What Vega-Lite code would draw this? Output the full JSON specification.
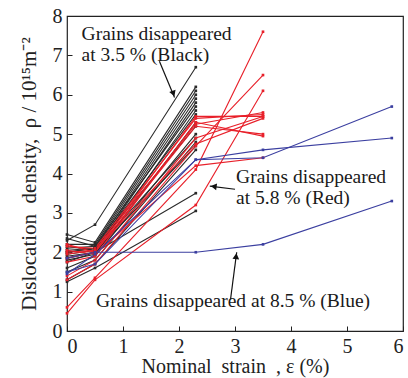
{
  "$schema": "https://vega.github.io/schema/vega-lite/v6.json",
  "width": 336,
  "height": 315,
  "autosize": "none",
  "padding": {"left": 67, "top": 16, "right": 5, "bottom": 47},
  "config": {
    "view": {"stroke": "#222", "strokeWidth": 1.2},
    "font": "Liberation Serif",
    "axis": {
      "grid": false, "domain": false, "tickColor": "#222", "tickSize": -5, "labelPadding": 10,
      "labelFont": "Liberation Serif", "labelFontSize": 20, "labelColor": "#222",
      "titleFont": "Liberation Serif", "titleFontSize": 20, "titleFontWeight": "normal", "titleColor": "#222"
    }
  },
  "datasets": {
    "lines": [
      {"g":"Black","id":"b1","x":0,"y":2.3},{"g":"Black","id":"b1","x":0.5,"y":2.7},{"g":"Black","id":"b1","x":2.3,"y":6.7},
      {"g":"Black","id":"b2","x":0,"y":2.45},{"g":"Black","id":"b2","x":0.5,"y":2.25},{"g":"Black","id":"b2","x":2.3,"y":6.2},
      {"g":"Black","id":"b3","x":0,"y":2.2},{"g":"Black","id":"b3","x":0.5,"y":2.2},{"g":"Black","id":"b3","x":2.3,"y":6.1},
      {"g":"Black","id":"b4","x":0,"y":2.1},{"g":"Black","id":"b4","x":0.5,"y":2.15},{"g":"Black","id":"b4","x":2.3,"y":6.0},
      {"g":"Black","id":"b5","x":0,"y":2.0},{"g":"Black","id":"b5","x":0.5,"y":2.1},{"g":"Black","id":"b5","x":2.3,"y":5.9},
      {"g":"Black","id":"b6","x":0,"y":1.95},{"g":"Black","id":"b6","x":0.5,"y":2.05},{"g":"Black","id":"b6","x":2.3,"y":5.8},
      {"g":"Black","id":"b7","x":0,"y":2.35},{"g":"Black","id":"b7","x":0.5,"y":2.15},{"g":"Black","id":"b7","x":2.3,"y":5.7},
      {"g":"Black","id":"b8","x":0,"y":1.9},{"g":"Black","id":"b8","x":0.5,"y":2.0},{"g":"Black","id":"b8","x":2.3,"y":5.6},
      {"g":"Black","id":"b9","x":0,"y":2.05},{"g":"Black","id":"b9","x":0.5,"y":2.1},{"g":"Black","id":"b9","x":2.3,"y":5.5},
      {"g":"Black","id":"b10","x":0,"y":1.8},{"g":"Black","id":"b10","x":0.5,"y":1.95},{"g":"Black","id":"b10","x":2.3,"y":5.3},
      {"g":"Black","id":"b11","x":0,"y":2.0},{"g":"Black","id":"b11","x":0.5,"y":2.1},{"g":"Black","id":"b11","x":2.3,"y":5.2},
      {"g":"Black","id":"b12","x":0,"y":1.6},{"g":"Black","id":"b12","x":0.5,"y":1.9},{"g":"Black","id":"b12","x":2.3,"y":5.0},
      {"g":"Black","id":"b13","x":0,"y":2.15},{"g":"Black","id":"b13","x":0.5,"y":2.05},{"g":"Black","id":"b13","x":2.3,"y":4.9},
      {"g":"Black","id":"b14","x":0,"y":1.5},{"g":"Black","id":"b14","x":0.5,"y":1.8},{"g":"Black","id":"b14","x":2.3,"y":4.8},
      {"g":"Black","id":"b15","x":0,"y":1.75},{"g":"Black","id":"b15","x":0.5,"y":2.0},{"g":"Black","id":"b15","x":2.3,"y":4.7},
      {"g":"Black","id":"b16","x":0,"y":1.3},{"g":"Black","id":"b16","x":0.5,"y":1.7},{"g":"Black","id":"b16","x":2.3,"y":4.6},
      {"g":"Black","id":"b17","x":0,"y":1.85},{"g":"Black","id":"b17","x":0.5,"y":2.0},{"g":"Black","id":"b17","x":2.3,"y":3.5},
      {"g":"Black","id":"b18","x":0,"y":1.25},{"g":"Black","id":"b18","x":0.5,"y":1.6},{"g":"Black","id":"b18","x":2.3,"y":3.05},
      {"g":"Red","id":"r1","x":0,"y":0.45},{"g":"Red","id":"r1","x":0.5,"y":1.3},{"g":"Red","id":"r1","x":2.3,"y":3.2},{"g":"Red","id":"r1","x":3.5,"y":6.1},
      {"g":"Red","id":"r2","x":0,"y":0.6},{"g":"Red","id":"r2","x":0.5,"y":1.35},{"g":"Red","id":"r2","x":2.3,"y":4.1},{"g":"Red","id":"r2","x":3.5,"y":7.6},
      {"g":"Red","id":"r3","x":0,"y":1.3},{"g":"Red","id":"r3","x":0.5,"y":1.7},{"g":"Red","id":"r3","x":2.3,"y":4.7},{"g":"Red","id":"r3","x":3.5,"y":6.5},
      {"g":"Red","id":"r4","x":0,"y":2.2},{"g":"Red","id":"r4","x":0.5,"y":2.0},{"g":"Red","id":"r4","x":2.3,"y":5.45},{"g":"Red","id":"r4","x":3.5,"y":5.45},
      {"g":"Red","id":"r5","x":0,"y":2.15},{"g":"Red","id":"r5","x":0.5,"y":2.1},{"g":"Red","id":"r5","x":2.3,"y":5.4},{"g":"Red","id":"r5","x":3.5,"y":5.5},
      {"g":"Red","id":"r6","x":0,"y":2.0},{"g":"Red","id":"r6","x":0.5,"y":2.05},{"g":"Red","id":"r6","x":2.3,"y":5.25},{"g":"Red","id":"r6","x":3.5,"y":5.55},
      {"g":"Red","id":"r7","x":0,"y":1.85},{"g":"Red","id":"r7","x":0.5,"y":2.0},{"g":"Red","id":"r7","x":2.3,"y":5.2},{"g":"Red","id":"r7","x":3.5,"y":5.0},
      {"g":"Red","id":"r8","x":0,"y":1.75},{"g":"Red","id":"r8","x":0.5,"y":1.9},{"g":"Red","id":"r8","x":2.3,"y":5.3},{"g":"Red","id":"r8","x":3.5,"y":4.95},
      {"g":"Red","id":"r9","x":0,"y":1.95},{"g":"Red","id":"r9","x":0.5,"y":2.05},{"g":"Red","id":"r9","x":2.3,"y":4.75},{"g":"Red","id":"r9","x":3.5,"y":5.4},
      {"g":"Red","id":"r10","x":0,"y":1.4},{"g":"Red","id":"r10","x":0.5,"y":1.8},{"g":"Red","id":"r10","x":2.3,"y":4.9},{"g":"Red","id":"r10","x":3.5,"y":5.45},
      {"g":"Red","id":"r11","x":0,"y":2.05},{"g":"Red","id":"r11","x":0.5,"y":1.95},{"g":"Red","id":"r11","x":2.3,"y":4.2},{"g":"Red","id":"r11","x":3.5,"y":4.4},
      {"g":"Blue","id":"l1","x":0,"y":1.45},{"g":"Blue","id":"l1","x":0.5,"y":1.95},{"g":"Blue","id":"l1","x":2.3,"y":4.35},{"g":"Blue","id":"l1","x":3.5,"y":4.6},{"g":"Blue","id":"l1","x":5.8,"y":4.9},
      {"g":"Blue","id":"l2","x":0,"y":1.5},{"g":"Blue","id":"l2","x":0.5,"y":1.7},{"g":"Blue","id":"l2","x":2.3,"y":4.35},{"g":"Blue","id":"l2","x":3.5,"y":4.4},{"g":"Blue","id":"l2","x":5.8,"y":5.7},
      {"g":"Blue","id":"l3","x":0,"y":1.85},{"g":"Blue","id":"l3","x":0.5,"y":2.0},{"g":"Blue","id":"l3","x":2.3,"y":2.0},{"g":"Blue","id":"l3","x":3.5,"y":2.2},{"g":"Blue","id":"l3","x":5.8,"y":3.3}
    ],
    "arrows": [
      {"x":1.65,"y":6.85,"x2":1.92,"y2":5.93},
      {"x":3.0,"y":3.6,"x2":2.55,"y2":3.68},
      {"x":2.92,"y":0.8,"x2":3.03,"y2":2.0}
    ],
    "heads": [
      {"x":1.90,"y":6.03,"a":160},
      {"x":2.62,"y":3.67,"a":278},
      {"x":3.02,"y":1.9,"a":6}
    ],
    "labels": [
      {"x":0.26,"y":7.55,"t":"Grains disappeared"},
      {"x":0.26,"y":7.0,"t":"at 3.5 % (Black)"},
      {"x":3.02,"y":3.92,"t":"Grains disappeared"},
      {"x":3.02,"y":3.38,"t":"at 5.8 % (Red)"},
      {"x":0.52,"y":0.75,"t":"Grains disappeared at 8.5 % (Blue)"}
    ]
  },
  "encoding": {
    "x": {"field": "x", "type": "quantitative", "scale": {"domain": [0, 6], "nice": false},
          "axis": {"values": [0,1,2,3,4,5,6], "title": "Nominal\u00a0 strain\u00a0 , ε (%)", "titlePadding": 0}},
    "y": {"field": "y", "type": "quantitative", "scale": {"domain": [0, 8], "nice": false},
          "axis": {"values": [0,1,2,3,4,5,6,7,8], "title": "Dislocation\u00a0 density,\u00a0 ρ / 10¹⁵m⁻²", "titlePadding": 13, "titleFontSize": 21}}
  },
  "layer": [
    {
      "data": {"name": "lines"},
      "mark": {"type": "line", "strokeWidth": 1.1, "point": {"filled": true, "size": 7, "shape": "square"}},
      "encoding": {
        "detail": {"field": "id"},
        "color": {"field": "g", "type": "nominal", "legend": null,
                  "scale": {"domain": ["Black", "Red", "Blue"], "range": ["#2a2a2a", "#e8202a", "#3b3fa0"]}}
      }
    },
    {
      "data": {"name": "arrows"},
      "mark": {"type": "rule", "color": "#111", "strokeWidth": 1.2},
      "encoding": {"x2": {"field": "x2"}, "y2": {"field": "y2"}}
    },
    {
      "data": {"name": "heads"},
      "mark": {"type": "point", "shape": "triangle-up", "filled": true, "color": "#111", "size": 45, "opacity": 1},
      "encoding": {"angle": {"field": "a", "type": "quantitative", "scale": null}}
    },
    {
      "data": {"name": "labels"},
      "mark": {"type": "text", "align": "left", "baseline": "middle", "font": "Liberation Serif", "fontSize": 19.5, "color": "#1a1a1a"},
      "encoding": {"text": {"field": "t"}}
    }
  ]
}
